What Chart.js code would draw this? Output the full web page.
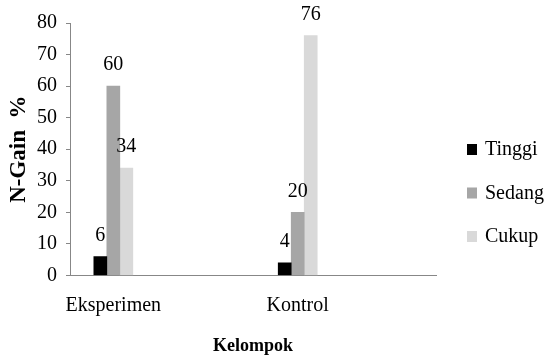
<!DOCTYPE html>
<html>
<head>
<meta charset="utf-8">
<script src="https://cdn.jsdelivr.net/npm/chart.js@4.4.0/dist/chart.umd.min.js"></script>
<style>
  html, body { margin: 0; padding: 0; background: #fff; }
  #wrap { width: 544px; height: 357px; }
</style>
</head>
<body>
<div id="wrap"><canvas id="myChart" width="544" height="357"></canvas></div>
<script>
// chart data
const categories = ["Eksperimen", "Kontrol"];
const seriesNames = ["Tinggi", "Sedang", "Cukup"];
const tinggi = [6, 4];
const sedang = [60, 20];
const cukup = [34, 76];
const yMax = 80;
const yStep = 10;

const serif = "'Liberation Serif', 'Times New Roman', serif";
const axisGray = "#878787";
const colors = ["#000000", "#a6a6a6", "#d9d9d9"];

// bars sit on a linear x axis so the groups land where the original has them
function toPoints(values) {
  return values.map((v, i) => ({ x: i * 2 + 0.5, y: v }));
}

// numbers above the bars
const valueLabels = {
  id: "valueLabels",
  afterDatasetsDraw(chart) {
    const ctx = chart.ctx;
    ctx.save();
    ctx.font = "20px " + serif;
    ctx.fillStyle = "#000";
    ctx.textAlign = "center";
    ctx.textBaseline = "middle";
    chart.data.datasets.forEach((ds, i) => {
      chart.getDatasetMeta(i).data.forEach((bar, j) => {
        ctx.fillText(ds.data[j].y, bar.x, bar.y - 21);
      });
    });
    ctx.restore();
  },
};

// legend on the right, drawn by hand to keep the spacing of the original
const sideLegend = {
  id: "sideLegend",
  afterDraw(chart) {
    const ctx = chart.ctx;
    ctx.save();
    ctx.font = "20px " + serif;
    ctx.textBaseline = "middle";
    ctx.textAlign = "left";
    chart.data.datasets.forEach((ds, i) => {
      const y = 150 + i * 43.5;
      ctx.fillStyle = ds.backgroundColor;
      ctx.fillRect(467, y - 6, 10, 11);
      ctx.fillStyle = "#000";
      ctx.fillText(ds.label, 485, y);
    });
    ctx.restore();
  },
};

const ctx = document.getElementById("myChart");
new Chart(ctx, {
  type: "bar",
  data: {
    datasets: [
      { label: seriesNames[0], data: toPoints(tinggi), backgroundColor: colors[0] },
      { label: seriesNames[1], data: toPoints(sedang), backgroundColor: colors[1] },
      { label: seriesNames[2], data: toPoints(cukup), backgroundColor: colors[2] },
    ],
  },
  options: {
    responsive: false,
    animation: false,
    devicePixelRatio: 1,
    layout: { padding: { top: 23, right: 108, bottom: 0, left: 0 } },
    datasets: { bar: { barThickness: 13 } },
    scales: {
      x: {
        type: "linear",
        offset: false,
        min: 0.03,
        max: 4,
        afterBuildTicks: (scale) => {
          scale.ticks = categories.map((c, i) => ({ value: i * 2 + 0.5 }));
        },
        grid: { display: false, drawTicks: false },
        border: { display: true, color: axisGray, width: 1 },
        ticks: {
          color: "#000",
          font: { family: serif, size: 20 },
          padding: 18,
          maxRotation: 0,
          autoSkip: false,
          callback: (v) => categories[(v - 0.5) / 2],
        },
        title: {
          display: true,
          text: "Kelompok",
          color: "#000",
          font: { family: serif, size: 18, weight: "bold" },
          padding: { top: 0, bottom: 0 },
        },
      },
      y: {
        min: 0,
        max: yMax,
        ticks: {
          stepSize: yStep,
          color: "#000",
          font: { family: serif, size: 20 },
          padding: 9,
        },
        grid: {
          drawOnChartArea: false,
          drawTicks: true,
          tickLength: 4,
          color: axisGray,
        },
        border: { display: true, color: axisGray, width: 1 },
        title: {
          display: true,
          text: "N-Gain  %",
          color: "#000",
          font: { family: serif, size: 23, weight: "bold" },
          padding: { top: 5, bottom: -4.6 },
        },
      },
    },
    plugins: {
      legend: { display: false },
      tooltip: { enabled: false },
    },
  },
  plugins: [valueLabels, sideLegend],
});
</script>
</body>
</html>
